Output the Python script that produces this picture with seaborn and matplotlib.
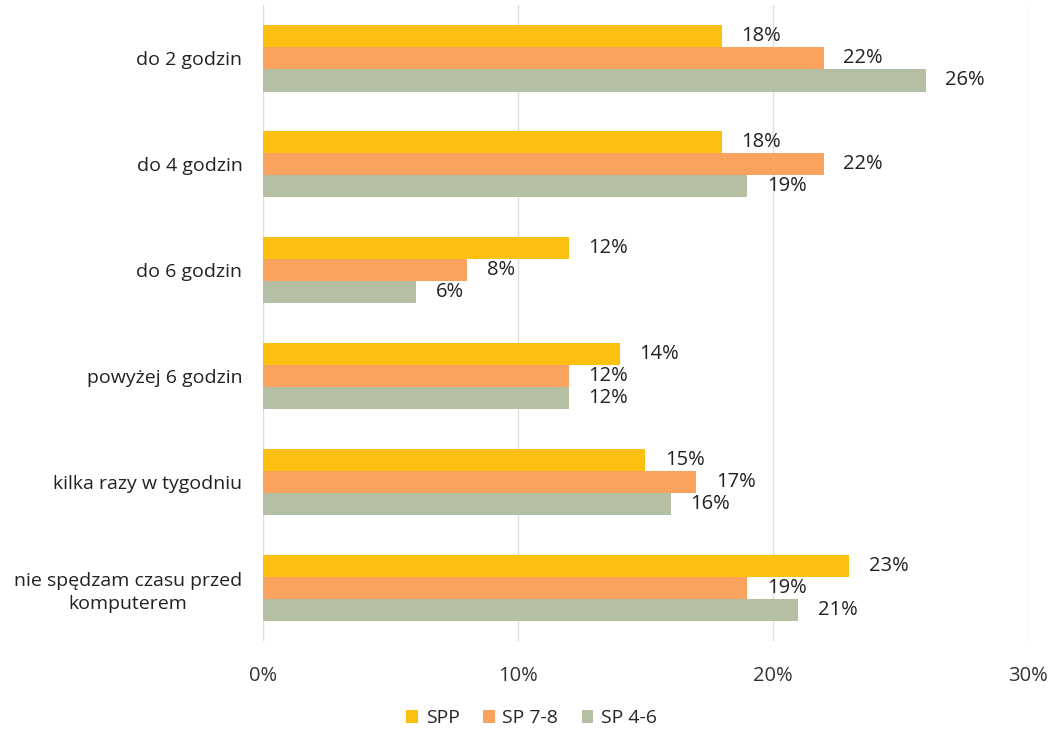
import pandas as pd
import matplotlib.pyplot as plt
import seaborn as sns

categories = ['do 2 godzin', 'do 4 godzin', 'do 6 godzin', 'powyżej 6 godzin',
              'kilka razy w tygodniu', 'nie spędzam czasu przed\nkomputerem']
series = ['SPP', 'SP 7-8', 'SP 4-6']
spp = [18, 18, 12, 14, 15, 23]
sp78 = [22, 22, 8, 12, 17, 19]
sp46 = [26, 19, 6, 12, 16, 21]
colors = ['#FDC010', '#F9A35E', '#B4BFA4']

df = pd.DataFrame({
    'kategoria': categories * 3,
    'grupa': [s for s in series for _ in categories],
    'wartosc': spp + sp78 + sp46,
})

sns.set_style('white')
plt.rcParams['font.family'] = ['Open Sans', 'DejaVu Sans']

fig = plt.figure(figsize=(10.53, 7.33), dpi=100)
ax = fig.add_axes([0.25, 0.1255, 0.726, 0.8675])

sns.barplot(data=df, y='kategoria', x='wartosc', hue='grupa', orient='h',
            palette=colors, saturation=1, width=0.63, gap=0, linewidth=0,
            ax=ax, errorbar=None)

for cont in ax.containers:
    ax.bar_label(cont, labels=[f'{v:.0f}%' for v in cont.datavalues],
                 padding=14, fontsize=14.5, color='#222222')

ax.set_xlim(0, 30)
ax.set_xticks([0, 10, 20, 30])
ax.set_xticklabels(['0%', '10%', '20%', '30%'], fontsize=14.5, color='#333333')
ax.set_yticks(range(len(categories)))
ax.set_yticklabels(categories, fontsize=14, color='#222222',
                   multialignment='center', linespacing=1.35)
ax.tick_params(axis='x', pad=18, length=0)
ax.tick_params(axis='y', length=0, pad=15)
ax.set_xlabel('')
ax.set_ylabel('')
ax.grid(axis='x', color='#dddddd', linewidth=1)
ax.set_axisbelow(True)
for s in ax.spines.values():
    s.set_visible(False)

handles, labels = ax.get_legend_handles_labels()
ax.legend(handles, labels, loc='lower center', bbox_to_anchor=(0.505, -0.016),
          bbox_transform=fig.transFigure, ncol=3, frameon=False, fontsize=14,
          handlelength=0.6, handleheight=0.6, handletextpad=0.4, columnspacing=1.2)

fig.savefig('out.png', dpi=100)
